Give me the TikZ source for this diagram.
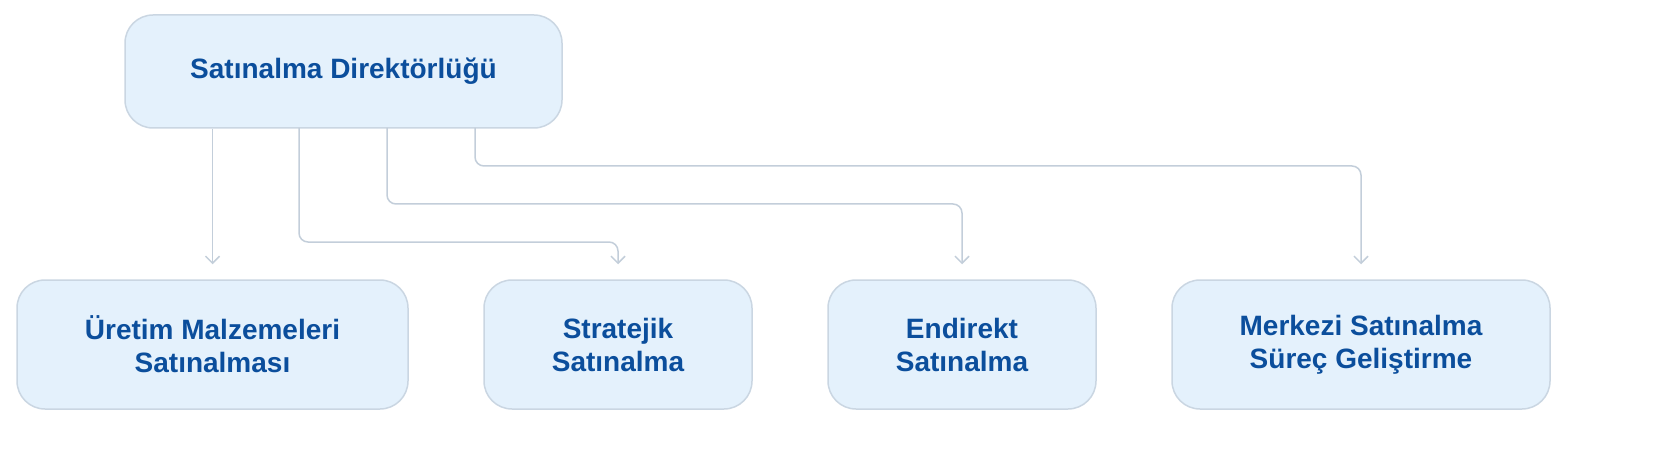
\documentclass[tikz,border=0pt]{standalone}
\usepackage{fontspec}
\setmainfont{Liberation Sans}
\usetikzlibrary{arrows.meta}
\definecolor{boxfill}{HTML}{E4F1FC}
\definecolor{boxline}{HTML}{CAD6E2}
\definecolor{boxtext}{HTML}{0B4E9C}
\definecolor{linkline}{HTML}{C3CEDA}
\begin{document}
\begin{tikzpicture}[x=0.5pt,y=-0.5pt,
  unit/.style={draw=boxline,line width=0.75pt,fill=boxfill,rounded corners=14pt,
    text=boxtext,font=\fontsize{14}{16.5}\selectfont\bfseries,align=center,inner sep=0pt},
  link/.style={draw=linkline,line width=0.75pt,rounded corners=4.5pt,
    -{Straight Barb[length=3.5pt,width=7pt]},shorten >=7.5pt}]
  \useasboundingbox (0,0) rectangle (1656,449);
  % head
  \node[unit,minimum width=218.5pt,minimum height=56.5pt] (head) at (343.5,71.5) {Satınalma Direktörlüğü};
  % departments
  \node[unit,minimum width=195.5pt,minimum height=64.5pt] (prod) at (212.5,344.5) {Üretim Malzemeleri\\Satınalması};
  \node[unit,minimum width=134pt,minimum height=64.5pt] (strat) at (618,344.5) {Stratejik\\Satınalma};
  \node[unit,minimum width=134pt,minimum height=64.5pt] (indir) at (962,344.5) {Endirekt\\Satınalma};
  \node[unit,minimum width=189pt,minimum height=64.5pt] (proc) at (1361,344.5) {Merkezi Satınalma\\Süreç Geliştirme};
  % links
  \draw[link] (head.south -| prod.north) -- (prod.north);
  \draw[link] (299,128) |- (618,242) -- (strat.north);
  \draw[link] (387,128) |- (962,204) -- (indir.north);
  \draw[link] (475,128) |- (1361,166) -- (proc.north);
\end{tikzpicture}
\end{document}
